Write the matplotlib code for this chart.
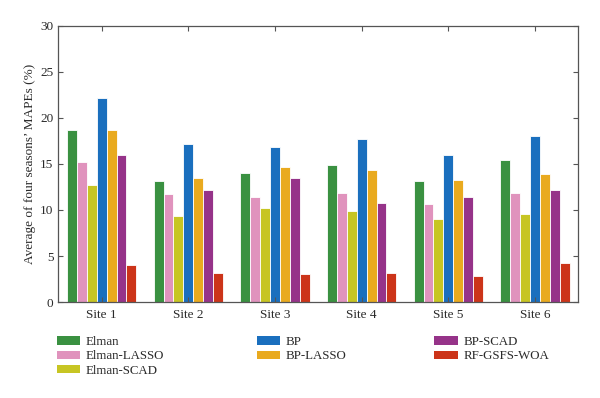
import matplotlib
matplotlib.use("Agg")
import matplotlib.pyplot as plt
import numpy as np
from matplotlib.patches import Patch

plt.rcParams['font.family'] = ['Liberation Serif', 'DejaVu Serif']

sites = ["Site 1", "Site 2", "Site 3", "Site 4", "Site 5", "Site 6"]
models = ["Elman", "Elman-LASSO", "Elman-SCAD", "BP", "BP-LASSO", "BP-SCAD", "RF-GSFS-WOA"]
elman       = [18.7, 13.2, 14.0, 14.9, 13.2, 15.4]
elman_lasso = [15.2, 11.7, 11.4, 11.8, 10.6, 11.9]
elman_scad  = [12.7, 9.3, 10.2, 9.9, 9.0, 9.6]
bp          = [22.2, 17.2, 16.9, 17.7, 16.0, 18.0]
bp_lasso    = [18.7, 13.5, 14.7, 14.3, 13.3, 13.9]
bp_scad     = [16.0, 12.2, 13.5, 10.8, 11.4, 12.2]
rf_gsfs_woa = [4.0, 3.2, 3.05, 3.1, 2.8, 4.2]
series = [elman, elman_lasso, elman_scad, bp, bp_lasso, bp_scad, rf_gsfs_woa]
colors = ["#3a9141", "#e093bd", "#c7c523", "#1a6fbe", "#e9aa1f", "#963389", "#cc3419"]

fig = plt.figure(figsize=(6.0, 3.98), dpi=100)
ax = fig.add_axes([0.0972, 0.2412, 0.8667, 0.6935])

x = np.arange(1, len(sites) + 1)
n = len(series)
step = 0.8 / n
for i, (vals, c) in enumerate(zip(series, colors)):
    ax.bar(x + (i - (n - 1) / 2) * step, vals, width=step, color=c,
           edgecolor="white", linewidth=0.6, label=models[i])

ax.set_xlim(0.5, 6.5)
ax.set_ylim(0, 30)
ax.set_yticks(np.arange(0, 31, 5))
ax.set_xticks(x)
ax.set_xticklabels(sites)
tc = "#2a2a2a"
ax.tick_params(direction="in", length=3.5, width=0.8, colors="#555555",
               labelcolor=tc, labelsize=9.5, top=True, right=True)
ax.tick_params(axis="x", pad=5)
for s in ax.spines.values():
    s.set_color("#555555")
    s.set_linewidth(0.9)
ax.set_ylabel("Average of four seasons\u2019 MAPEs (%)", fontsize=9.5, color=tc, labelpad=3)

handles = [Patch(facecolor=c, edgecolor="none") for c in colors]
groups = [(0, 3, 56.7), (3, 5, 256.7), (5, 7, 434.3)]
for a, b, xpx in groups:
    fig.legend(handles[a:b], models[a:b], loc="upper left",
               bbox_to_anchor=(xpx / 600, 1 - 336 / 398), frameon=False,
               borderpad=0, borderaxespad=0, fontsize=9.3, handlelength=1.8,
               handleheight=0.6, handletextpad=0.45, labelspacing=0.18,
               labelcolor=tc)

fig.savefig("out.png", dpi=100)
